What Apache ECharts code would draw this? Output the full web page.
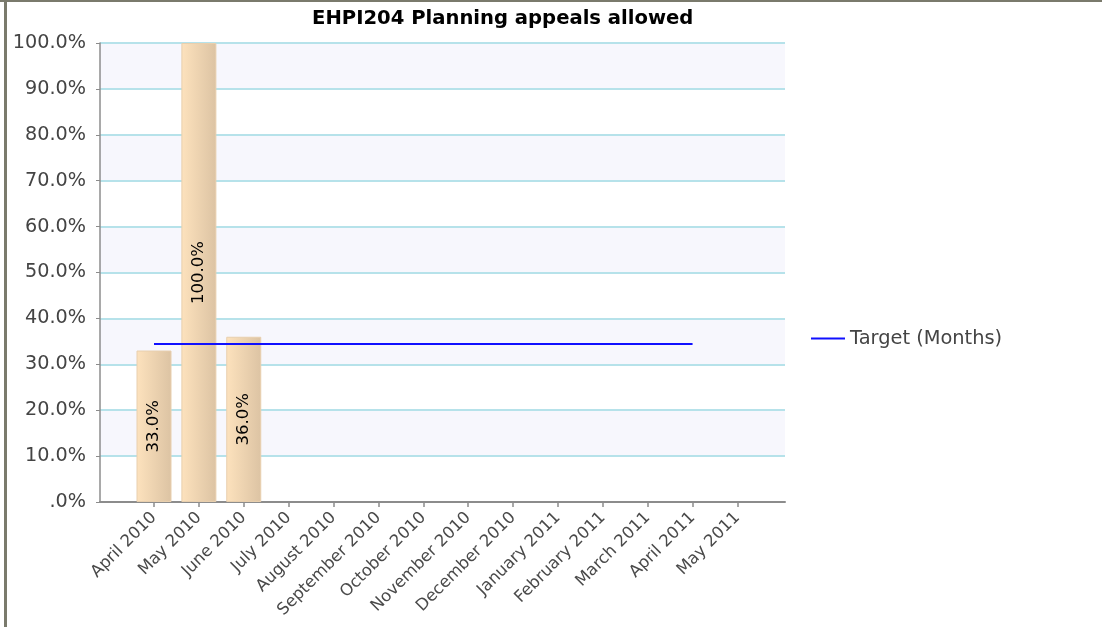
<!DOCTYPE html>
<html>
<head>
<meta charset="utf-8">
<script src="https://cdn.jsdelivr.net/npm/echarts@6/dist/echarts.min.js"></script>
<style>
  html, body { margin: 0; padding: 0; background: #fff; }
  #chart { width: 1102px; height: 627px; }
</style>
</head>
<body>
<div id="chart"></div>
<script>
const titleText = 'EHPI204 Planning appeals allowed';
const months = ['April 2010', 'May 2010', 'June 2010', 'July 2010', 'August 2010', 'September 2010',
  'October 2010', 'November 2010', 'December 2010', 'January 2011', 'February 2011', 'March 2011',
  'April 2011', 'May 2011'];
const actualValues = [33, 100, 36];
const targetValues = [34.4, 34.4, 34.4, 34.4, 34.4, 34.4, 34.4, 34.4, 34.4, 34.4, 34.4, 34.4, 34.4];
const targetName = 'Target (Months)';

const FONT = 'DejaVu Sans';
const chart = echarts.init(document.getElementById('chart'), null, { renderer: 'canvas' });

const plotLeft = 100, plotRight = 785, plotTop = 43, plotBottom = 502;
const firstTick = 154, step = 44.88;
const catLeft = firstTick - step / 2;
const catWidth = step * months.length;

const pct = v => (v === 0 ? '.0%' : v.toFixed(1) + '%');

chart.setOption({
  animation: false,
  backgroundColor: '#ffffff',
  title: {
    text: titleText,
    left: 307,
    top: 4,
    textStyle: { fontFamily: FONT, fontWeight: 'bold', fontSize: 19.6, color: '#000' }
  },
  legend: {
    data: [targetName],
    left: 806,
    top: 324,
    orient: 'vertical',
    icon: 'rect',
    itemWidth: 34,
    itemHeight: 2,
    textStyle: { fontFamily: FONT, fontSize: 19.4, color: '#444' }
  },
  graphic: [
    { type: 'rect', shape: { x: 0, y: 0, width: 1102, height: 2 }, style: { fill: '#7a7a6c' }, silent: true },
    { type: 'rect', shape: { x: 4, y: 0, width: 3, height: 627 }, style: { fill: '#7a7a6c' }, silent: true }
  ],
  grid: [
    { left: plotLeft, top: plotTop, width: plotRight - plotLeft, height: plotBottom - plotTop },
    { left: catLeft, top: plotTop, width: catWidth, height: plotBottom - plotTop }
  ],
  xAxis: [
    {
      gridIndex: 0, type: 'value', min: 0, max: 1,
      axisLine: { show: true, lineStyle: { color: '#8c8c8c', width: 2 } },
      axisTick: { show: false }, axisLabel: { show: false }, splitLine: { show: false }
    },
    {
      gridIndex: 1, type: 'category', data: months, boundaryGap: true,
      axisLine: { show: false },
      axisTick: { show: true, alignWithLabel: true, length: 5, lineStyle: { color: '#8c8c8c', width: 1.5 } },
      axisLabel: { rotate: 45, interval: 0, margin: 13, fontFamily: FONT, fontSize: 16.5, color: '#4a4a4a' },
      splitLine: { show: false }
    }
  ],
  yAxis: [
    {
      gridIndex: 0, type: 'value', min: 0, max: 100, interval: 10,
      axisLine: { show: true, lineStyle: { color: '#8c8c8c', width: 1.5 } },
      axisTick: { show: true, length: 4, lineStyle: { color: '#8c8c8c' } },
      axisLabel: { formatter: pct, margin: 14, fontFamily: FONT, fontSize: 19.2, color: '#444' },
      splitLine: { show: true, lineStyle: { color: '#b6e2ea', width: 2 } },
      splitArea: { show: true, areaStyle: { color: ['#ffffff', '#f7f7fd'] } }
    },
    {
      gridIndex: 1, type: 'value', min: 0, max: 100, interval: 10,
      axisLine: { show: false }, axisTick: { show: false }, axisLabel: { show: false },
      splitLine: { show: false }
    }
  ],
  series: [
    {
      name: 'Actual',
      type: 'bar',
      xAxisIndex: 1, yAxisIndex: 1,
      data: actualValues,
      barWidth: 35,
      itemStyle: {
        color: new echarts.graphic.LinearGradient(0, 0, 1, 0, [
          { offset: 0, color: '#fde2bd' },
          { offset: 1, color: '#dcc3a3' }
        ]),
        borderColor: '#e8cfae',
        borderWidth: 1
      },
      label: {
        show: true,
        position: 'inside',
        rotate: 90,
        formatter: p => p.value.toFixed(1) + '%',
        fontFamily: FONT, fontSize: 16.5, color: '#000'
      },
      z: 2
    },
    {
      name: targetName,
      type: 'line',
      xAxisIndex: 1, yAxisIndex: 1,
      data: targetValues,
      showSymbol: false,
      symbol: 'none',
      lineStyle: { color: '#1010ff', width: 2 },
      itemStyle: { color: '#1010ff' },
      z: 3
    }
  ]
});
</script>
</body>
</html>
